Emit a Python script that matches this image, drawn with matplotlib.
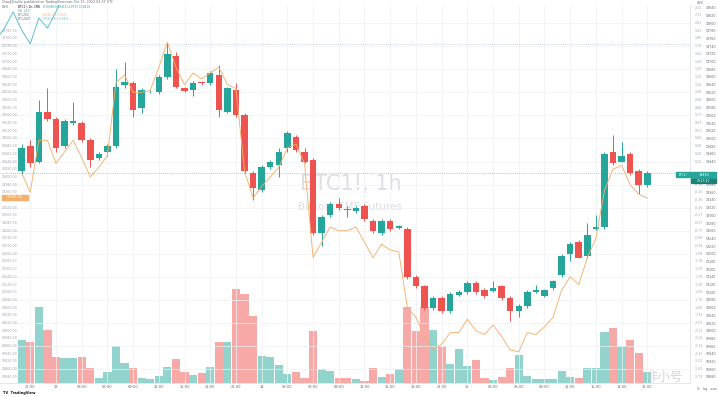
import matplotlib
matplotlib.use('Agg')
import matplotlib.pyplot as plt
import matplotlib.transforms as mtransforms
from matplotlib.patches import Rectangle
from matplotlib.ticker import MultipleLocator, FuncFormatter

# BTC1! 1h candles
opens = [19415, 19480, 19440, 19570, 19550, 19480, 19540, 19540, 19495, 19450,
         19465, 19480, 19639, 19645, 19580, 19620, 19620, 19660, 19715, 19630,
         19625, 19647, 19645, 19665, 19570, 19625, 19560, 19410, 19365, 19425,
         19430, 19475, 19505, 19465, 19445, 19255, 19300, 19330, 19317, 19310,
         19325, 19285, 19255, 19285, 19268, 19265, 19140, 19115, 19060, 19085,
         19050, 19093, 19100, 19125, 19105, 19102, 19115, 19085, 19050, 19065,
         19100, 19090, 19110, 19145, 19200, 19230, 19195, 19265, 19270, 19465,
         19440, 19460, 19415, 19380]
closes = [19475, 19435, 19570, 19550, 19475, 19545, 19545, 19495, 19445, 19460,
          19480, 19635, 19647, 19575, 19625, 19622, 19660, 19720, 19635, 19624,
          19645, 19643, 19670, 19575, 19630, 19560, 19415, 19370, 19425, 19440,
          19465, 19515, 19470, 19440, 19255, 19295, 19330, 19320, 19313, 19320,
          19290, 19260, 19285, 19265, 19272, 19140, 19115, 19060, 19085, 19050,
          19095, 19100, 19125, 19100, 19090, 19110, 19085, 19050, 19065, 19100,
          19105, 19105, 19130, 19195, 19225, 19190, 19250, 19270, 19460, 19435,
          19455, 19410, 19380, 19410]
highs = [19485, 19495, 19600, 19630, 19555, 19550, 19595, 19545, 19500, 19465,
         19485, 19680, 19700, 19650, 19630, 19625, 19665, 19750, 19725, 19635,
         19650, 19650, 19675, 19690, 19635, 19645, 19565, 19415, 19430, 19445,
         19475, 19520, 19510, 19475, 19450, 19300, 19335, 19345, 19325, 19325,
         19330, 19290, 19290, 19290, 19275, 19270, 19145, 19120, 19090, 19090,
         19100, 19105, 19130, 19130, 19110, 19130, 19120, 19090, 19070, 19105,
         19120, 19108, 19132, 19200, 19230, 19235, 19280, 19300, 19465, 19510,
         19490, 19465, 19420, 19415]
lows = [19405, 19425, 19435, 19545, 19465, 19475, 19535, 19490, 19425, 19445,
        19455, 19475, 19630, 19555, 19565, 19618, 19615, 19655, 19630, 19620,
        19610, 19640, 19640, 19555, 19565, 19555, 19410, 19340, 19360, 19420,
        19400, 19465, 19465, 19435, 19250, 19220, 19295, 19315, 19295, 19305,
        19285, 19255, 19250, 19260, 19265, 19135, 19110, 19055, 19055, 19045,
        19045, 19090, 19095, 19095, 19085, 19100, 19080, 19025, 19035, 19060,
        19098, 19087, 19105, 19140, 19180, 19188, 19190, 19262, 19265, 19432,
        19438, 19405, 19355, 19375]
volumes = [860, 820, 1520, 1060, 520, 500, 500, 520, 300, 100,
           220, 740, 400, 300, 100, 80, 140, 320, 480, 220,
           160, 200, 320, 820, 820, 1880, 1780, 1340, 540, 520,
           360, 180, 220, 100, 1040, 280, 240, 100, 100, 80,
           40, 300, 120, 180, 280, 1520, 1040, 1520, 1060, 740,
           380, 680, 340, 460, 100, 60, 120, 300, 560, 140,
           80, 80, 80, 240, 120, 100, 300, 300, 1020, 1100,
           740, 860, 600, 220]

# compared symbols
orange_line = [19410, 19360, 19495, 19495, 19435, 19465, 19495, 19450, 19400, 19425,
               19455, 19645, 19665, 19620, 19620, 19625, 19685, 19750, 19685, 19640,
               19670, 19655, 19670, 19685, 19640, 19630, 19415, 19345, 19375, 19400,
               19425, 19475, 19485, 19435, 19190, 19230, 19270, 19260, 19260, 19270,
               19230, 19190, 19225, 19210, 19205, 19060, 19035, 18985, 18950, 18965,
               18995, 18995, 19030, 19000, 18990, 19015, 18985, 18950, 18945, 18995,
               18990, 19010, 19035, 19105, 19140, 19120, 19190, 19240, 19365, 19420,
               19430, 19380, 19355, 19345]
blue_idx = [-3, -2, -1, 0, 1, 2, 3, 4, 5]
blue_vals = [19756, 19787, 19829, 19782, 19746, 19813, 19787, 19829, 19881]
blue_last = 19745

time_ticks = [1, 4, 7, 10, 13, 16, 19, 22, 25, 28, 31, 34, 37, 40, 43, 46, 49,
              52, 55, 58, 61, 64, 67, 70, 73]
time_labels = ['21:00', '13', '03:00', '06:00', '09:00', '12:00', '15:00', '18:00',
               '21:00', '14', '03:00', '06:00', '09:00', '12:00', '15:00', '18:00',
               '21:00', '15', '03:00', '06:00', '09:00', '12:00', '15:00', '18:00',
               '21:00']

UP = '#26a69a'
DOWN = '#ef5350'
UP_VOL = '#93d3cd'
DOWN_VOL = '#f7a9a8'
ORANGE = '#f4b06e'
BLUE = '#5cbfd6'
GREY = '#6a6d78'

W, H = 718, 397


def fx(x):
    return x / W


def fy(y):
    return 1 - y / H


def box(x0, y0, x1, y1, color):
    fig.patches.append(Rectangle((fx(x0), fy(y1)), (x1 - x0) / W, (y1 - y0) / H,
                                 transform=fig.transFigure, color=color, zorder=10))


fig = plt.figure(figsize=(W / 100, H / 100), dpi=100)
rect = [0, fy(383), fx(690), (383 - 5) / H]

xlim = (-2.53, 77.98)
n = len(opens)
idx = list(range(n))
up = [c >= o for o, c in zip(opens, closes)]

# volume pane (below everything)
vax = fig.add_axes(rect)
vax.bar(idx, volumes, width=0.96, color=[UP_VOL if u else DOWN_VOL for u in up])
vax.set_xlim(*xlim)
vax.set_ylim(0, 7560)
vax.axis('off')
vax.text(0.509, 0.526, 'BTC1!, 1h', transform=vax.transAxes, ha='center', va='center',
         fontsize=15, color='#dcdee4')
vax.text(0.507, 0.466, 'Bitcoin CME Futures', transform=vax.transAxes, ha='center',
         va='center', fontsize=7.5, color='#dcdee4')

# price pane
ax = fig.add_axes(rect, facecolor='none')
ax.set_xlim(*xlim)
ax.set_ylim(18864, 19847)

ax.vlines(idx, lows, highs, colors=[UP if u else DOWN for u in up], lw=0.7, zorder=3)
bodies = [max(abs(c - o), 2) for o, c in zip(opens, closes)]
ax.bar(idx, bodies, bottom=[min(o, c) for o, c in zip(opens, closes)], width=0.76,
       color=[UP if u else DOWN for u in up], zorder=4)
ax.plot(idx, orange_line, color=ORANGE, lw=0.65, zorder=5)
ax.plot(blue_idx, blue_vals, color=BLUE, lw=0.7, zorder=5)

ax.axhline(closes[-1], color='#9db4c4', lw=0.6, ls=(0, (1, 1.5)), zorder=2)
ax.axhline(blue_last, color='#b9c6d8', lw=0.6, ls=(0, (1, 1.5)), zorder=2)


def right_label(v, p):
    # the last-price tag covers the labels next to it
    if abs(v - closes[-1]) < 15:
        return ''
    return f'{v:.0f}'


# axes styling
ax.yaxis.tick_right()
ax.yaxis.set_major_locator(MultipleLocator(20))
ax.yaxis.set_minor_locator(MultipleLocator(60))
ax.yaxis.remove_overlapping_locs = False
ax.yaxis.set_major_formatter(FuncFormatter(right_label))
ax.tick_params(axis='y', which='both', length=0, labelsize=2.3, labelcolor=GREY, pad=11)
ax.set_xticks(time_ticks, time_labels)
ax.tick_params(axis='x', length=0, labelsize=2.6, labelcolor=GREY, pad=1.5)
ax.grid(True, axis='x', color='#eef0f4', lw=0.5, zorder=0)
ax.grid(True, axis='y', which='minor', color='#eef0f4', lw=0.5, zorder=0)
for s in ['top', 'left']:
    ax.spines[s].set_visible(False)
for s in ['right', 'bottom']:
    ax.spines[s].set_color('#e0e3eb')
    ax.spines[s].set_linewidth(0.6)

# extra scale columns (percent on the right, left overlay scale)
trans = mtransforms.blended_transform_factory(ax.transAxes, ax.transData)
ticks = [t for t in ax.get_yticks() if 18870 < t < 19845]
for t in ticks:
    if abs(t - closes[-1]) >= 15:
        pct = (t - closes[-1]) / closes[-1] * 100
        ax.text(1.007, t, f'{pct:.2f}', transform=trans, fontsize=2.3, color='#a3a6af',
                va='center', ha='left', clip_on=False)
    if t < 19790 and abs(t - orange_line[-1]) >= 12:
        ax.text(0.003, t, f'{t:.2f}', transform=trans, fontsize=2.3, color='#a3a6af',
                va='center', ha='left')

# price tags
box(691, 172, 716, 179, UP)
fig.text(fx(703.5), fy(175.5), f'{closes[-1]:.0f}', fontsize=2.4, color='white',
         ha='center', va='center', zorder=11)
box(691, 179, 716, 183, '#1e7f77')
fig.text(fx(703.5), fy(181), '00:23:41', fontsize=2.1, color='white', ha='center',
         va='center', zorder=11)
box(676, 172, 690, 177, UP)
fig.text(fx(683), fy(174.5), 'BTC1!', fontsize=2.1, color='white', ha='center',
         va='center', zorder=11)
box(2, 195, 28, 200, ORANGE)
fig.text(fx(15), fy(197.5), f'{orange_line[-1]:.2f}', fontsize=2.3, color='white',
         ha='center', va='center', zorder=11)

# header
fig.text(fx(2), fy(2.5), 'ChaoJiDaoGe published on TradingView.com, Oct 15, 2022 04:37 UTC',
         fontsize=2.3, color=GREY, va='center')
fig.text(fx(2), fy(7.5), 'USD', fontsize=2.3, color=GREY, va='center')
fig.text(fx(18), fy(7.5), 'BTC1!, 1h, CME', fontsize=2.1, color='#131722', va='center')
fig.text(fx(43), fy(7.5), f'O{opens[-1]} H{highs[-1]} L{lows[-1]} C{closes[-1]}',
         fontsize=2.1, color=UP, va='center')
fig.text(fx(18), fy(11.5), f'Vol  {volumes[-1]}', fontsize=2.1, color=UP, va='center')
fig.text(fx(18), fy(15.5), 'BTCUSD', fontsize=2.1, color=GREY, va='center')
fig.text(fx(42), fy(15.5), f'{orange_line[-1]:.2f} -0.05%', fontsize=2.1,
         color=ORANGE, va='center')
fig.text(fx(18), fy(19.5), 'BTCUSDT', fontsize=2.1, color=GREY, va='center')
fig.text(fx(42), fy(19.5), f'{blue_last:.2f} +0.08%', fontsize=2.1, color=BLUE,
         va='center')
fig.text(fx(697), fy(3), 'USD', fontsize=2.3, color=GREY, va='center')

# footer
fig.text(fx(3), fy(393), 'TV  TradingView', fontsize=2.6, color='#131722', va='center',
         weight='bold')
fig.text(fx(697), fy(389), '%   log   auto', fontsize=2.2, color=GREY, va='center')
fig.text(fx(664), fy(377), '非小号', fontsize=9, color='#c3c7cf', alpha=0.75,
         ha='center', va='center', family=['Noto Sans CJK SC', 'DejaVu Sans'], zorder=12)

fig.savefig('out.png', dpi=100)
